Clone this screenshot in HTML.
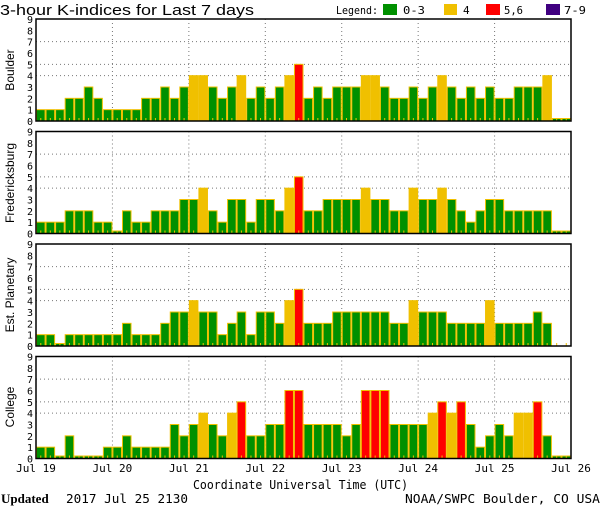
<!DOCTYPE html>
<html><head><meta charset="utf-8"><style>
html,body{margin:0;padding:0;background:#fff;}
svg{display:block;font-family:"DejaVu Sans Mono","Liberation Mono",monospace;}
</style></head><body>
<svg id="s" width="600" height="510" xmlns="http://www.w3.org/2000/svg">
<rect width="600" height="510" fill="#fff"/>
<text x="0" y="15" font-size="15" font-family="Liberation Sans, sans-serif" textLength="254" lengthAdjust="spacingAndGlyphs">3-hour K-indices for Last 7 days</text>
<text x="336" y="14" font-size="11" textLength="42" lengthAdjust="spacingAndGlyphs">Legend:</text>
<rect x="383" y="4" width="14" height="11" fill="#009000"/>
<text x="403" y="14" font-size="11" textLength="22" lengthAdjust="spacingAndGlyphs">0-3</text>
<rect x="444" y="4" width="13" height="11" fill="#f0c000"/>
<text x="463" y="14" font-size="11">4</text>
<rect x="486" y="4" width="14" height="11" fill="#ff0000"/>
<text x="504" y="14" font-size="11" textLength="19" lengthAdjust="spacingAndGlyphs">5,6</text>
<rect x="546" y="4" width="14" height="11" fill="#400080"/>
<text x="564" y="14" font-size="11" textLength="22" lengthAdjust="spacingAndGlyphs">7-9</text>
<g id="panels"></g>
<g font-size="11">
<text x="36" y="472" text-anchor="middle">Jul 19</text>
<text x="112.4" y="472" text-anchor="middle">Jul 20</text>
<text x="188.9" y="472" text-anchor="middle">Jul 21</text>
<text x="265.3" y="472" text-anchor="middle">Jul 22</text>
<text x="341.7" y="472" text-anchor="middle">Jul 23</text>
<text x="418.1" y="472" text-anchor="middle">Jul 24</text>
<text x="494.6" y="472" text-anchor="middle">Jul 25</text>
<text x="571" y="472" text-anchor="middle">Jul 26</text>
</g>
<text x="193" y="489" font-size="12.5" textLength="215" lengthAdjust="spacingAndGlyphs">Coordinate Universal Time (UTC)</text>
<text x="1" y="503" font-size="13" font-weight="bold" font-family="Liberation Serif, serif">Updated</text>
<text x="66" y="503" font-size="12.5" textLength="122" lengthAdjust="spacingAndGlyphs">2017 Jul 25 2130</text>
<text x="405" y="503" font-size="12.5" textLength="195" lengthAdjust="spacingAndGlyphs">NOAA/SWPC Boulder, CO USA</text>
<g font-size="12" font-family="Liberation Sans, sans-serif">
<text transform="translate(14,70) rotate(-90)" text-anchor="middle">Boulder</text>
<text transform="translate(14,183) rotate(-90)" text-anchor="middle">Fredericksburg</text>
<text transform="translate(14,295) rotate(-90)" text-anchor="middle">Est. Planetary</text>
<text transform="translate(14,407) rotate(-90)" text-anchor="middle">College</text>
</g>
</svg>
<script>
var data=[
[19,[1,1,1,2,2,3,2,1,1,1,1,2,2,3,2,3,4,4,3,2,3,4,2,3,2,3,4,5,2,3,2,3,3,3,4,4,3,2,2,3,2,3,4,3,2,3,2,3,2,2,3,3,3,4,0,0],true],
[131.5,[1,1,1,2,2,2,1,1,0,2,1,1,2,2,2,3,3,4,2,1,3,3,1,3,3,2,4,5,2,2,3,3,3,3,4,3,3,2,2,4,3,3,4,3,2,1,2,3,3,2,2,2,2,2,0,0],true],
[244,[1,1,0,1,1,1,1,1,1,2,1,1,1,2,3,3,4,3,3,1,2,3,1,3,3,2,4,5,2,2,2,3,3,3,3,3,3,2,2,4,3,3,3,2,2,2,2,4,2,2,2,2,3,2,-1,-1],true],
[356.5,[1,1,0,2,0,0,0,1,1,2,1,1,1,1,3,2,3,4,3,2,4,5,2,2,3,3,6,6,3,3,3,3,2,3,6,6,6,3,3,3,3,4,5,4,5,3,1,2,3,2,4,4,5,2,0,0],true]];
var g=document.getElementById('panels'),ns='http://www.w3.org/2000/svg',h='';
var L=36,W=9.554,H=102,U=H/9;
data.forEach(function(p){
 var t=p[0],b=t+H,v=p[1];
 [4,5,7].forEach(function(k){var y=b-k*U;h+='<line x1="36" x2="571" y1="'+y+'" y2="'+y+'" stroke="#777" stroke-dasharray="1,3"/>';});
 for(var d=1;d<7;d++){var x=L+d*8*W;h+='<line x1="'+x+'" x2="'+x+'" y1="'+t+'" y2="'+b+'" stroke="#777" stroke-dasharray="1,3"/>';}
 v.forEach(function(k,i){var x=L+i*W;
  if(k>=0){var hh=k==0?2.5:k*U;var c=k<=3?'#009000':k==4?'#f0c000':k<=6?'#ff0000':'#400080';
  h+='<rect x="'+(x+0.5)+'" y="'+(b-hh)+'" width="'+(W-1)+'" height="'+hh+'" fill="'+c+'" stroke="#f0c000" stroke-width="1"/>';}
  h+='<rect x="'+(x+W/2-0.5)+'" y="'+(b-3)+'" width="1" height="3" fill="#f0c000"/>';
 });
 h+='<rect x="36" y="'+t+'" width="535" height="'+H+'" fill="none" stroke="#000" stroke-width="1.5"/>';
 for(var k=0;k<=9;k++){h+='<text x="33" y="'+(b-k*U+4)+'" font-size="10" text-anchor="end">'+k+'</text>';}
});
g.innerHTML=h;
</script>
</body></html>
